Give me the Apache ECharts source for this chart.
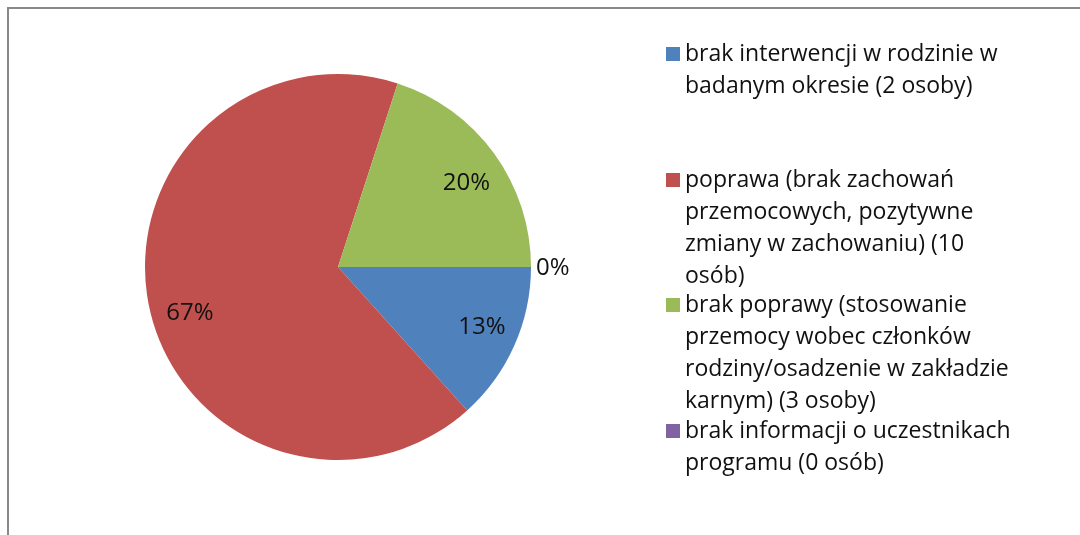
<!DOCTYPE html>
<html>
<head>
<meta charset="utf-8">
<script src="https://cdn.jsdelivr.net/npm/echarts@6/dist/echarts.min.js"></script>
<style>
  html, body { margin: 0; padding: 0; background: #fff; }
  #main { width: 1080px; height: 535px; }
</style>
</head>
<body>
<div id="main"></div>
<script>
var categories = [
    'brak interwencji w rodzinie w\nbadanym okresie (2 osoby)',
    'poprawa (brak zachowań\nprzemocowych, pozytywne\nzmiany w zachowaniu) (10\nosób)',
    'brak poprawy (stosowanie\nprzemocy wobec członków\nrodziny/osadzenie w zakładzie\nkarnym) (3 osoby)',
    'brak informacji o uczestnikach\nprogramu (0 osób)'
];
var counts = [2, 10, 3, 0];
var colors = ['#4F81BD', '#C0504D', '#9BBB59', '#8064A2'];
var legendTops = [6, 68, 193, 383];
// small nudges so the percent labels sit where Excel put them
var labelNudge = [[0, -4], [6, 13], [1, 9], [0, 1]];

var FONT = '"Open Sans"';
var LH = 32;

var chart = echarts.init(document.getElementById('main'));

var pieData = categories.map(function (name, i) {
    return { name: name, value: counts[i], itemStyle: { color: colors[i] } };
});

var labelData = categories.map(function (name, i) {
    var d = { name: name, value: counts[i], label: { offset: labelNudge[i] } };
    if (counts[i] === 0) {
        d.label.position = 'outside';
    }
    return d;
});

// one legend per entry; blank lines on top push the first text line onto the icon
var legends = categories.map(function (name, i) {
    var n = name.split('\n').length;
    return {
        orient: 'vertical',
        left: 666,
        top: legendTops[i],
        padding: 0,
        itemWidth: 14,
        itemHeight: 14,
        icon: 'rect',
        selectedMode: false,
        data: [name],
        formatter: function (s) {
            return new Array(n).join('\n') + s;
        },
        textStyle: {
            fontFamily: FONT,
            fontSize: 23,
            color: '#111',
            lineHeight: LH
        }
    };
});

chart.setOption({
    backgroundColor: '#fff',
    animation: false,
    legend: legends,
    graphic: [{
        type: 'rect',
        shape: { x: 8, y: 8, width: 1200, height: 700 },
        style: { fill: 'none', stroke: '#888', lineWidth: 2 },
        silent: true
    }],
    series: [
        {
            type: 'pie',
            center: [338, 267],
            radius: [0, 193],
            startAngle: 0,
            clockwise: true,
            silent: true,
            label: { show: false },
            labelLine: { show: false },
            itemStyle: { borderWidth: 0 },
            emphasis: { disabled: true },
            data: pieData
        },
        {
            // transparent ring, only to place the percent labels near the rim
            type: 'pie',
            center: [338, 267],
            radius: [116, 193],
            startAngle: 0,
            clockwise: true,
            silent: true,
            avoidLabelOverlap: false,
            itemStyle: { color: 'rgba(0,0,0,0)', borderWidth: 0 },
            emphasis: { disabled: true },
            label: {
                show: true,
                position: 'inside',
                fontFamily: FONT,
                fontSize: 24,
                color: '#111',
                formatter: function (p) { return Math.round(p.percent) + '%'; }
            },
            labelLine: { show: false, length: 0, length2: 0 },
            data: labelData
        }
    ]
});
</script>
</body>
</html>
